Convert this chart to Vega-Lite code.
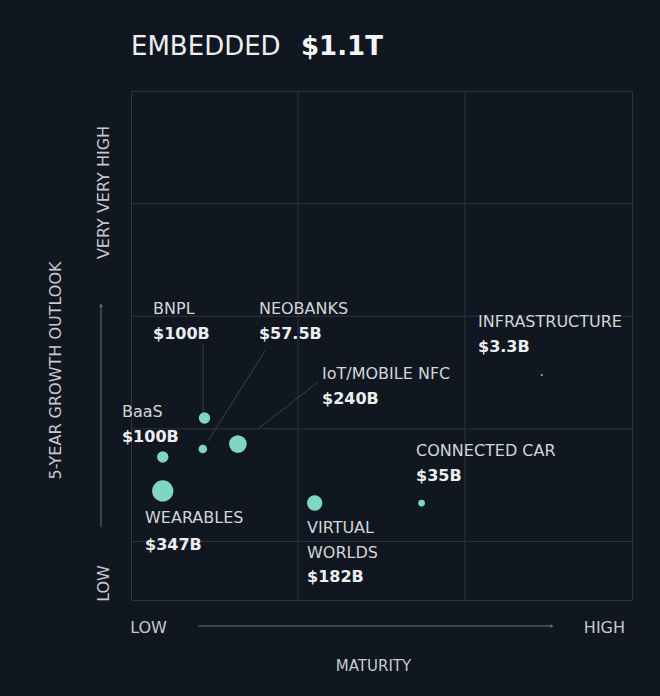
{
  "$schema": "https://vega.github.io/schema/vega-lite/v6.json",
  "width": 501,
  "height": 509,
  "autosize": {"type": "none"},
  "padding": {"left": 131, "top": 91, "right": 28, "bottom": 96},
  "background": "#111720",
  "config": {
    "view": {"stroke": "#2c343e", "strokeWidth": 1},
    "font": "DejaVu Sans"
  },
  "datasets": {
    "grid": [
      {"x": 1, "y": -0.52, "x2": 1, "y2": 4},
      {"x": 2, "y": -0.52, "x2": 2, "y2": 4},
      {"x": 0, "y": 0, "x2": 3, "y2": 0},
      {"x": 0, "y": 1, "x2": 3, "y2": 1},
      {"x": 0, "y": 2, "x2": 3, "y2": 2},
      {"x": 0, "y": 3, "x2": 3, "y2": 3}
    ],
    "arrows": [
      {"x": 0.401, "y": -0.751, "x2": 2.521, "y2": -0.751},
      {"x": -0.18, "y": 0.127, "x2": -0.18, "y2": 2.099}
    ],
    "arrowheads": [
      {"x": 2.521, "y": -0.751},
      {"x": -0.18, "y": 2.099}
    ],
    "leaders": [
      {"x": 0.431, "y": 1.753, "x2": 0.431, "y2": 1.149},
      {"x": 0.802, "y": 1.691, "x2": 0.461, "y2": 0.892},
      {"x": 1.12, "y": 1.416, "x2": 0.76, "y2": 0.998}
    ],
    "sectors": [
      {"name": "BNPL", "value": 100, "x": 0.44, "y": 1.096},
      {"name": "NEOBANKS", "value": 57.5, "x": 0.43, "y": 0.821},
      {"name": "IoT/MOBILE NFC", "value": 240, "x": 0.64, "y": 0.865},
      {"name": "BaaS", "value": 100, "x": 0.19, "y": 0.75},
      {"name": "WEARABLES", "value": 347, "x": 0.19, "y": 0.448},
      {"name": "VIRTUAL WORLDS", "value": 182, "x": 1.1, "y": 0.341},
      {"name": "CONNECTED CAR", "value": 35, "x": 1.74, "y": 0.341},
      {"name": "INFRASTRUCTURE", "value": 3.3, "x": 2.46, "y": 1.478}
    ],
    "labels": [
      {"text": "BNPL", "kind": "name", "x": 0.132, "y": 2.016},
      {"text": "$100B", "kind": "value", "x": 0.132, "y": 1.802},
      {"text": "NEOBANKS", "kind": "name", "x": 0.766, "y": 2.016},
      {"text": "$57.5B", "kind": "value", "x": 0.766, "y": 1.802},
      {"text": "INFRASTRUCTURE", "kind": "name", "x": 2.078, "y": 1.9},
      {"text": "$3.3B", "kind": "value", "x": 2.078, "y": 1.678},
      {"text": "IoT/MOBILE NFC", "kind": "name", "x": 1.144, "y": 1.442},
      {"text": "$240B", "kind": "value", "x": 1.144, "y": 1.22},
      {"text": "BaaS", "kind": "name", "x": -0.054, "y": 1.105},
      {"text": "$100B", "kind": "value", "x": -0.054, "y": 0.883},
      {"text": "CONNECTED CAR", "kind": "name", "x": 1.707, "y": 0.758},
      {"text": "$35B", "kind": "value", "x": 1.707, "y": 0.536},
      {"text": "WEARABLES", "kind": "name", "x": 0.084, "y": 0.163},
      {"text": "$347B", "kind": "value", "x": 0.084, "y": -0.076},
      {"text": "VIRTUAL\nWORLDS", "kind": "name", "x": 1.054, "y": 0.075},
      {"text": "$182B", "kind": "value", "x": 1.054, "y": -0.36}
    ],
    "heading": [
      {"text": "EMBEDDED", "kind": "name", "x": 0, "y": 4.32},
      {"text": "$1.1T", "kind": "value", "x": 1.018, "y": 4.32}
    ]
  },
  "encoding": {
    "x": {
      "field": "x",
      "type": "quantitative",
      "scale": {"domain": [0, 3], "nice": false, "zero": false},
      "axis": {
        "values": [0.102, 2.832],
        "labelExpr": "datum.value < 1 ? 'LOW' : 'HIGH'",
        "grid": false,
        "domain": false,
        "ticks": false,
        "tickSize": 0,
        "labelPadding": 27,
        "labelBaseline": "middle",
        "labelAlign": "center",
        "labelFlush": false,
        "labelOverlap": false,
        "labelBound": false,
        "labelFontSize": 16,
        "labelColor": "#c6cacf",
        "labelFont": "DejaVu Sans",
        "title": "MATURITY",
        "titleFont": "DejaVu Sans",
        "titleFontSize": 15,
        "titleFontWeight": "normal",
        "titleColor": "#c6cacf",
        "titleX": 242,
        "titleY": 65,
        "titleAlign": "center",
        "titleBaseline": "middle"
      }
    },
    "y": {
      "field": "y",
      "type": "quantitative",
      "scale": {"domain": [-0.52, 4], "nice": false, "zero": false},
      "axis": {
        "values": [-0.369, 3.103],
        "labelExpr": "datum.value < 1 ? 'LOW' : 'VERY VERY HIGH'",
        "grid": false,
        "domain": false,
        "ticks": false,
        "tickSize": 0,
        "labelAngle": 270,
        "labelAlign": "center",
        "labelBaseline": "middle",
        "labelPadding": 28,
        "labelFlush": false,
        "labelOverlap": false,
        "labelBound": false,
        "labelFontSize": 16,
        "labelColor": "#c6cacf",
        "labelFont": "DejaVu Sans",
        "title": "5-YEAR GROWTH OUTLOOK",
        "titleFont": "DejaVu Sans",
        "titleFontSize": 16,
        "titleFontWeight": "normal",
        "titleColor": "#c6cacf",
        "titleAngle": 270,
        "titleX": -76,
        "titleY": 279,
        "titleAlign": "center",
        "titleBaseline": "middle"
      }
    }
  },
  "layer": [
    {
      "data": {"name": "grid"},
      "mark": {"type": "rule", "color": "#2c343e", "strokeWidth": 1},
      "encoding": {"x2": {"field": "x2"}, "y2": {"field": "y2"}}
    },
    {
      "data": {"name": "arrows"},
      "mark": {"type": "rule", "color": "#66707b", "strokeWidth": 1, "clip": false},
      "encoding": {"x2": {"field": "x2"}, "y2": {"field": "y2"}}
    },
    {
      "data": {"name": "arrowheads"},
      "mark": {"type": "point", "filled": true, "color": "#66707b", "size": 14, "opacity": 1, "clip": false},
      "encoding": {
        "shape": {"condition": {"test": "datum.y < 0", "value": "triangle-right"}, "value": "triangle-up"}
      }
    },
    {
      "data": {"name": "leaders"},
      "mark": {"type": "rule", "color": "#3a434e", "strokeWidth": 1},
      "encoding": {"x2": {"field": "x2"}, "y2": {"field": "y2"}}
    },
    {
      "data": {"name": "sectors"},
      "mark": {"type": "circle", "color": "#7ed6c3", "opacity": 1},
      "encoding": {
        "size": {
          "field": "value",
          "type": "quantitative",
          "scale": {"type": "linear", "domain": [0, 347], "range": [0, 452]},
          "legend": null
        },
        "tooltip": [{"field": "name"}, {"field": "value"}]
      }
    },
    {
      "data": {"name": "labels"},
      "transform": [{"filter": "datum.kind === 'name'"}],
      "mark": {"type": "text", "align": "left", "baseline": "alphabetic", "fontSize": 16, "lineBreak": "\n", "lineHeight": 25, "font": "DejaVu Sans", "color": "#d3d6d9"},
      "encoding": {"text": {"field": "text"}}
    },
    {
      "data": {"name": "labels"},
      "transform": [{"filter": "datum.kind === 'value'"}],
      "mark": {"type": "text", "align": "left", "baseline": "alphabetic", "fontSize": 16, "fontWeight": "bold", "font": "DejaVu Sans", "color": "#eceeef"},
      "encoding": {"text": {"field": "text"}}
    },
    {
      "data": {"name": "heading"},
      "transform": [{"filter": "datum.kind === 'name'"}],
      "mark": {"type": "text", "align": "left", "baseline": "alphabetic", "fontSize": 26, "font": "DejaVu Sans", "color": "#eceeef"},
      "encoding": {"text": {"field": "text"}}
    },
    {
      "data": {"name": "heading"},
      "transform": [{"filter": "datum.kind === 'value'"}],
      "mark": {"type": "text", "align": "left", "baseline": "alphabetic", "fontSize": 26, "fontWeight": "bold", "font": "DejaVu Sans", "color": "#f4f5f6"},
      "encoding": {"text": {"field": "text"}}
    }
  ]
}
